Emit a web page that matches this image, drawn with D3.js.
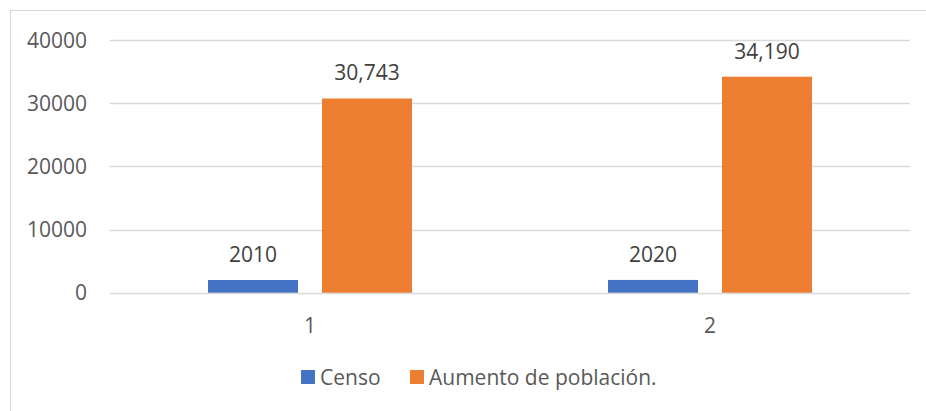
<!DOCTYPE html>
<html lang="es">
<head>
<meta charset="UTF-8">
<title>Censo</title>
<script src="https://cdnjs.cloudflare.com/ajax/libs/d3/7.8.5/d3.min.js"></script>
<style>
  body { margin: 0; background: #fff; }
  text { font-family: "Open Sans", sans-serif; }
</style>
</head>
<body>
<div id="chart"></div>
<script>
  var categories = ["1", "2"];
  var seriesNames = ["Censo", "Aumento de población."];
  var censo = [2010, 2020];
  var aumento = [30743, 34190];
  var yTicks = [0, 10000, 20000, 30000, 40000];
  var colors = ["#4472c4", "#ed7d31"];

  var width = 926, height = 411;
  var margin = {top: 40, left: 110, right: 16, bottom: 118};

  var svg = d3.select("#chart").append("svg")
      .attr("width", width)
      .attr("height", height);

  // chart frame
  svg.append("rect")
      .attr("x", 10.5).attr("y", 10.5)
      .attr("width", 930).attr("height", 420)
      .style("fill", "none")
      .style("stroke", "#d9d9d9");

  var x = d3.scaleBand()
      .domain(categories)
      .range([margin.left, width - margin.right])
      .paddingInner(0).paddingOuter(0);

  var x1 = d3.scaleBand()
      .domain(seriesNames)
      .range([0, 204])
      .paddingInner(24 / 114);

  var y = d3.scaleLinear()
      .domain([0, 40000])
      .range([height - margin.bottom - 0.3, margin.top]);

  // gridlines
  svg.append("g")
    .selectAll("line")
    .data(yTicks)
    .enter().append("line")
      .attr("x1", margin.left)
      .attr("x2", width - margin.right)
      .attr("y1", d => Math.round(y(d)) + 0.5)
      .attr("y2", d => Math.round(y(d)) + 0.5)
      .style("stroke", "#d9d9d9")
      .style("stroke-width", 1.3);

  // y labels
  svg.append("g")
    .selectAll("text")
    .data(yTicks)
    .enter().append("text")
      .attr("x", 87)
      .attr("y", d => y(d) + 7.5)
      .attr("text-anchor", "end")
      .style("font-size", "21px")
      .style("fill", "#595959")
      .text(d => d);

  // x labels
  svg.append("g")
    .selectAll("text")
    .data(categories)
    .enter().append("text")
      .attr("x", d => x(d) + x.bandwidth() / 2)
      .attr("y", 333)
      .attr("text-anchor", "middle")
      .style("font-size", "21px")
      .style("fill", "#595959")
      .text(d => d);

  var rows = categories.map((c, i) => ({cat: c, vals: [censo[i], aumento[i]]}));

  var groups = svg.append("g")
    .selectAll("g")
    .data(rows)
    .enter().append("g")
      .attr("transform", d => "translate(" + (x(d.cat) + x.bandwidth() / 2 - 102) + ",0)");

  groups.selectAll("rect")
    .data(d => d.vals.map((v, j) => ({name: seriesNames[j], v: v, j: j})))
    .enter().append("rect")
      .attr("x", d => x1(d.name))
      .attr("y", d => y(d.v))
      .attr("width", x1.bandwidth())
      .attr("height", d => y(0) - y(d.v))
      .style("fill", d => colors[d.j]);

  var fmt = d3.format(",");
  groups.selectAll("text")
    .data(d => d.vals.map((v, j) => ({name: seriesNames[j], v: v, j: j})))
    .enter().append("text")
      .attr("x", d => x1(d.name) + x1.bandwidth() / 2)
      .attr("y", d => y(d.v) - 18)
      .attr("text-anchor", "middle")
      .style("font-size", "21px")
      .style("fill", "#404040")
      .text(d => d.j === 0 ? d.v : fmt(d.v));

  // legend
  var legend = svg.append("g");
  var legX = [301, 410];
  seriesNames.forEach((name, i) => {
    legend.append("rect")
      .attr("x", legX[i]).attr("y", 370)
      .attr("width", 14).attr("height", 14)
      .style("fill", colors[i]);
    legend.append("text")
      .attr("x", legX[i] + 19)
      .attr("y", 385)
      .style("font-size", "21px")
      .style("fill", "#595959")
      .text(name);
  });
</script>
</body>
</html>
